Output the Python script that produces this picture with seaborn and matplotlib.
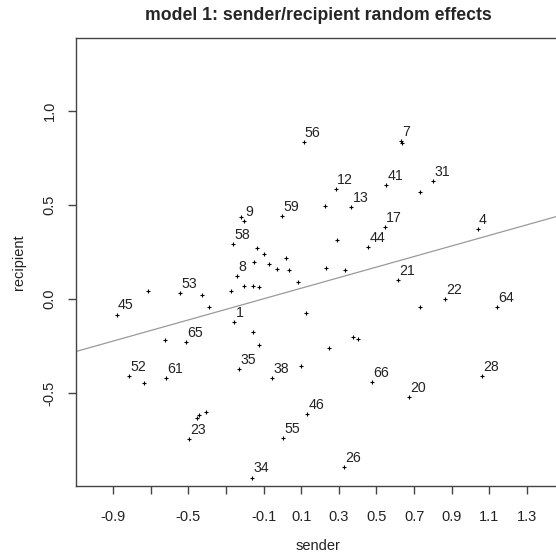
import numpy as np
import pandas as pd
import matplotlib
matplotlib.use("Agg")
import matplotlib.pyplot as plt
import seaborn as sns

# Data
sender = [0.112, -0.207, -0.218, -0.003, -0.264, -0.136, -0.098, 0.018, -0.149, -0.073,
          -0.029, 0.037, -0.244, 0.081, -0.207, -0.156, -0.124, -0.276, -0.717, -0.546,
          -0.429, -0.391, -0.882, 0.125, 0.629, 0.638, 0.283, 0.553, 0.800, 0.730,
          0.226, 0.367, 0.545, 1.038, 0.290, 0.455, 0.232, 0.335, 0.616, 0.864,
          0.730, 1.139, -0.257, -0.156, -0.124, -0.625, -0.514, -0.818, -0.735, -0.620,
          -0.232, -0.053, 0.099, 0.130, -0.455, -0.442, -0.406, -0.499, 0.003, -0.163,
          0.374, 0.400, 0.246, 0.475, 1.063, 0.673, 0.327]
recipient = [0.835, 0.416, 0.434, 0.441, 0.292, 0.269, 0.237, 0.219, 0.198, 0.186,
             0.159, 0.154, 0.122, 0.090, 0.071, 0.071, 0.064, 0.044, 0.044, 0.033,
             0.020, -0.044, -0.083, -0.076, 0.840, 0.828, 0.585, 0.605, 0.625, 0.568,
             0.497, 0.490, 0.382, 0.370, 0.313, 0.274, 0.166, 0.154, 0.101, -0.002,
             -0.044, -0.044, -0.122, -0.174, -0.243, -0.218, -0.230, -0.409, -0.447, -0.423,
             -0.372, -0.423, -0.357, -0.614, -0.632, -0.618, -0.600, -0.747, -0.739, -0.950,
             -0.203, -0.214, -0.262, -0.441, -0.409, -0.524, -0.893]
labels = ["56", "9", "", "59", "58", "", "", "", "", "",
          "", "", "8", "", "", "", "", "", "", "53",
          "", "", "45", "", "7", "", "12", "41", "31", "",
          "", "13", "17", "4", "", "44", "", "", "21", "22",
          "", "64", "1", "", "", "", "65", "52", "", "61",
          "35", "38", "", "46", "", "", "", "23", "55", "34",
          "", "", "", "66", "28", "20", "26"]

line_intercept = 0.029
line_slope = 0.281

xticks = [-0.9, -0.7, -0.5, -0.3, -0.1, 0.1, 0.3, 0.5, 0.7, 0.9, 1.1, 1.3]
xticklabels = ["-0.9", "", "-0.5", "", "-0.1", "0.1", "0.3", "0.5", "0.7", "0.9", "1.1", "1.3"]
yticks = [-0.5, 0.0, 0.5, 1.0]
yticklabels = ["-0.5", "0.0", "0.5", "1.0"]

df = pd.DataFrame({"sender": sender, "recipient": recipient, "label": labels})

sns.set_style("white")
plt.rcParams['font.family'] = ['Liberation Sans', 'DejaVu Sans']

fig = plt.figure(figsize=(5.56, 5.56), dpi=100)
ax = fig.add_axes([76 / 556, 70 / 556, 484 / 556, 448 / 556])

sns.scatterplot(data=df, x="sender", y="recipient", marker="+", s=9,
                color="black", linewidth=0.8, ax=ax, legend=False)
ax.axline((0, line_intercept), slope=line_slope, color="#9a9a9a", linewidth=0.9, zorder=1)

for _, r in df.iterrows():
    if r["label"]:
        ax.annotate(r["label"], (r["sender"], r["recipient"]), xytext=(1.0, 1.5),
                    textcoords="offset points", ha="left", va="bottom",
                    fontsize=10.2, color="#222222")

ax.set_xlim(-1.098, 1.476)
ax.set_ylim(-0.995, 1.388)

ax.set_xticks(xticks)
ax.set_xticklabels(xticklabels)
ax.set_yticks(yticks)
ax.set_yticklabels(yticklabels, rotation=90, va="center")
ax.tick_params(axis="both", direction="out", length=6, width=1, color="#444444",
               labelsize=10.5, labelcolor="#222222", bottom=True, left=True)
ax.tick_params(axis="x", pad=11)
ax.tick_params(axis="y", pad=8)

ax.set_xlabel("sender", fontsize=10.5, labelpad=11, color="#222222")
ax.set_ylabel("recipient", fontsize=10.5, labelpad=12, color="#222222")
ax.set_title("model 1: sender/recipient random effects", fontsize=12.7,
             fontweight="bold", pad=13)

for side in ["left", "top", "bottom"]:
    ax.spines[side].set_color("#444444")
    ax.spines[side].set_linewidth(1)
ax.spines["right"].set_visible(False)

fig.savefig("out.png", dpi=100)
